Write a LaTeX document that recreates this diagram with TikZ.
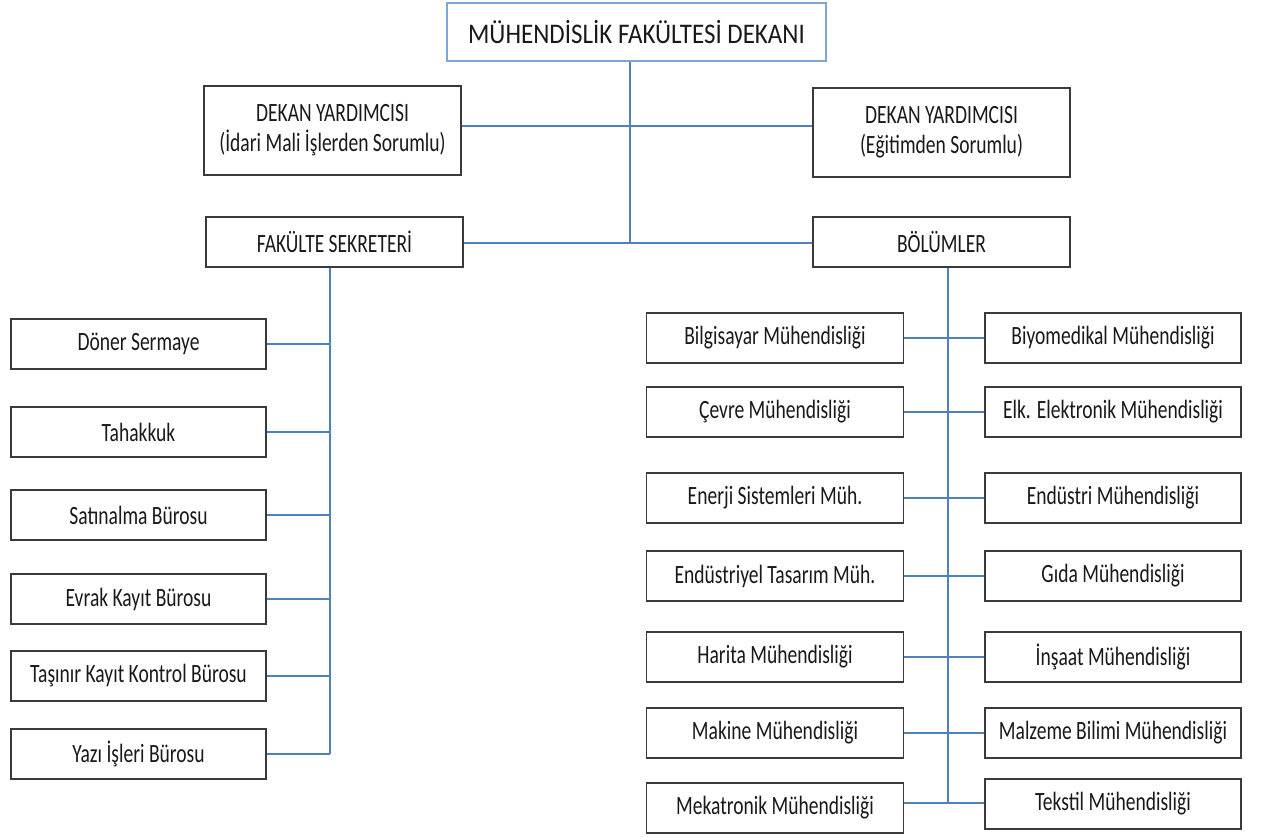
\documentclass[tikz,border=0pt]{standalone}
\usepackage{fontspec}
\setmainfont{Carlito}
\newfontfamily\boxfont{Carlito}[FakeStretch=0.74]
\newfontfamily\deanfont{Carlito}[FakeStretch=0.88]
\definecolor{lineblue}{HTML}{4F81BD}
\definecolor{deanblue}{HTML}{7EA6D8}
\definecolor{boxgray}{HTML}{3A3A3A}
\begin{document}
\begin{tikzpicture}[x=1pt,y=-1pt,
  box/.style={draw=boxgray,line width=1.3pt,fill=white,inner sep=0pt,align=center,
    text=black!90,font=\boxfont\fontsize{26.4}{30}\selectfont},
  link/.style={draw=lineblue,line width=1.3pt},
  thick link/.style={draw=lineblue,line width=2.4pt}]
\useasboundingbox (0,0) rectangle (1265,837);
% top
\node[box,draw=deanblue,line width=1.2pt,minimum width=379pt,minimum height=58pt,
  font=\deanfont\fontsize{28.4}{30}\selectfont] (dean) at (636.5,32) {MÜHENDİSLİK FAKÜLTESİ DEKANI};
\node[box,minimum width=257pt,minimum height=89pt] (dyl) at (332.5,130.5)
  {DEKAN YARDIMCISI\\(İdari Mali İşlerden Sorumlu)};
\node[box,minimum width=257pt,minimum height=89pt] (dyr) at (941.5,132.5)
  {DEKAN YARDIMCISI\\(Eğitimden Sorumlu)};
\node[box,minimum width=257pt,minimum height=50pt] (fs) at (334.5,242) {FAKÜLTE SEKRETERİ};
\node[box,minimum width=257pt,minimum height=50pt] (bol) at (941.5,242) {BÖLÜMLER};
\coordinate (c1) at (630,126);
\coordinate (c2) at (630,243);
\draw[link] (dean.south -| c1) -- (c2);
\draw[link] (dyl.east |- c1) -- (dyr.west |- c1);
\draw[link] (fs.east |- c2) -- (bol.west |- c2);
% left column
\foreach \n/\y/\t in {l1/344/Döner Sermaye,l2/432/Tahakkuk,l3/515/Satınalma Bürosu,
  l4/599/Evrak Kayıt Bürosu,l5/676/Taşınır Kayıt Kontrol Bürosu,l6/754/Yazı İşleri Bürosu}
  \node[box,minimum width=255pt,minimum height=50pt] (\n) at (138.5,\y) {\t};
\coordinate (lb) at (330,754);
\draw[link] (fs.south -| lb) -- (lb);
\draw[thick link] (l1.east) -- (l1.east -| lb);
\foreach \n in {l2,l3,l4,l5,l6}
  \draw[link] (\n.east) -- (\n.east -| lb);
% right columns
\foreach \n/\y/\t in {a1/338/Bilgisayar Mühendisliği,a2/412/Çevre Mühendisliği,
  a3/498/Enerji Sistemleri Müh.,a4/576/Endüstriyel Tasarım Müh.,a5/657/Harita Mühendisliği,
  a6/733/Makine Mühendisliği,a7/808/Mekatronik Mühendisliği}
  \node[box,minimum width=257pt,minimum height=50pt] (\n) at (775,\y) {\t};
\foreach \n/\y/\t in {b1/338/Biyomedikal Mühendisliği,b2/412/Elk. Elektronik Mühendisliği,
  b3/498/Endüstri Mühendisliği,b4/576/Gıda Mühendisliği,b5/657/İnşaat Mühendisliği,
  b6/733/Malzeme Bilimi Mühendisliği,b7/804/Tekstil Mühendisliği}
  \node[box,minimum width=256pt,minimum height=50pt] (\n) at (1113,\y) {\t};
\coordinate (rb) at (948,803);
\draw[link] (bol.south -| rb) -- (rb);
\foreach \i in {1,...,6}
  \draw[link] (a\i.east) -- (b\i.west |- a\i.east);
\draw[thick link] (a7.east |- rb) -- (b7.west |- rb);
\end{tikzpicture}
\end{document}
